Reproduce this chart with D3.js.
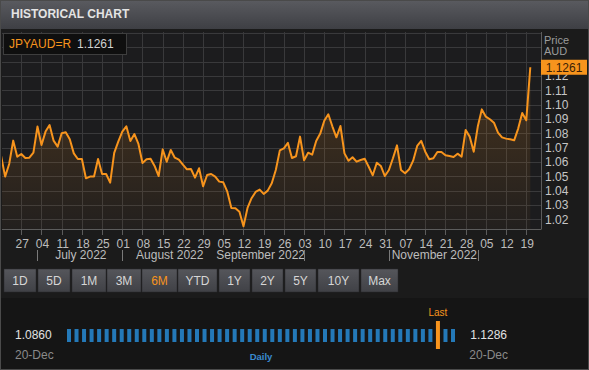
<!DOCTYPE html>
<html><head><meta charset="utf-8">
<script src="https://cdn.jsdelivr.net/npm/d3@7"></script>
<style>
html,body{margin:0;padding:0;background:#1a1a1a;}
svg{display:block;font-family:"Liberation Sans",Arial,Helvetica,sans-serif;}
</style>
</head><body>
<svg id="chart" width="589" height="370"></svg>
<script>
// ---------------- DATA ----------------
const title = "HISTORICAL CHART";
const symbol = "JPYAUD=R";
const lastValue = 1.1261;
const currencyLabel = ["Price", "AUD"];
const firstTradingDay = "2022-06-20";
// daily closes (trading days, Jun 20 2022 .. Dec 20 2022)
const values = [
  1.0642,1.0498,1.0586,1.0749,1.0637,1.0656,1.0628,1.0630,1.0665,1.0847,
  1.0719,1.0812,1.0858,1.0749,1.0707,1.0800,1.0807,1.0758,1.0660,1.0621,
  1.0621,1.0486,1.0498,1.0498,1.0621,1.0516,1.0516,1.0456,1.0663,1.0742,
  1.0812,1.0849,1.0747,1.0795,1.0726,1.0593,1.0619,1.0623,1.0572,1.0502,
  1.0688,1.0602,1.0684,1.0630,1.0616,1.0581,1.0549,1.0551,1.0491,1.0556,
  1.0430,1.0509,1.0516,1.0498,1.0463,1.0458,1.0393,1.0279,1.0277,1.0253,
  1.0151,1.0279,1.0347,1.0391,1.0407,1.0377,1.0400,1.0451,1.0544,1.0681,
  1.0695,1.0733,1.0628,1.0640,1.0777,1.0612,1.0665,1.0651,1.0747,1.0798,
  1.0888,1.0933,1.0849,1.0772,1.0851,1.0660,1.0609,1.0633,1.0602,1.0614,
  1.0623,1.0567,1.0507,1.0595,1.0572,1.0502,1.0544,1.0626,1.0716,1.0544,
  1.0521,1.0549,1.0609,1.0712,1.0747,1.0672,1.0619,1.0626,1.0670,1.0670,
  1.0647,1.0642,1.0635,1.0658,1.0637,1.0823,1.0777,1.0672,1.0847,1.0967,
  1.0916,1.0898,1.0874,1.0805,1.0772,1.0763,1.0758,1.0751,1.0833,1.0942,
  1.0891,1.1261
];
const yTickLabels = [1.02,1.03,1.04,1.05,1.06,1.07,1.08,1.09,1.10,1.11,1.12];
const yGridValues = [1.02,1.03,1.04,1.05,1.06,1.07,1.08,1.09,1.10,1.11,1.12,1.13,1.14,1.15];
const monthLabels = [
  {label:"July 2022", from:"2022-07-01", to:"2022-08-01"},
  {label:"August 2022", from:"2022-08-01", to:"2022-09-01"},
  {label:"September 2022", from:"2022-09-01", to:"2022-10-03"},
  {label:"November 2022", from:"2022-11-01", to:"2022-12-01"}
];
const monthSeparators = ["2022-07-01","2022-08-01","2022-10-03","2022-11-01","2022-12-01"];
const buttons = ["1D","5D","1M","3M","6M","YTD","1Y","2Y","5Y","10Y","Max"];
const activeButton = "6M";
const rangeLow = 1.0860, rangeHigh = 1.1286;
const rangeDateLeft = "20-Dec", rangeDateRight = "20-Dec";
const rangeSlots = 52;
const intervalLabel = "Daily";
const lastLabel = "Last";

// ---------------- LAYOUT ----------------
const buttonStarts = [4, 38, 72, 107, 142, 178, 219, 252, 285, 318, 361];
const buttonEnds   = [36, 70, 106, 141, 177, 217, 250, 283, 316, 359, 398];

// ---------------- SETUP ----------------
const parse = d3.timeParse("%Y-%m-%d");
const fmtKey = d3.timeFormat("%Y-%m-%d");
const dates = [];
{
  let d = parse(firstTradingDay);
  while (dates.length < values.length) {
    const wd = d.getDay();
    if (wd !== 0 && wd !== 6) dates.push(new Date(d));
    d = d3.timeDay.offset(d, 1);
  }
}
const idxOf = new Map(dates.map((d,i)=>[fmtKey(d), i]));
const data = values.map((v,i)=>({i, date:dates[i], v}));

const svg = d3.select("#chart");
const W = 589, H = 370;
const plot = {left:2, right:541, top:32, bottom:229};

const x = d3.scaleLinear().domain([0, values.length-1]).range([1.1, 530.3]);
const y = d3.scaleLinear().domain([1.02, 1.12]).range([219.3, 76]);

const defs = svg.append("defs");
const tg = defs.append("linearGradient").attr("id","titleGrad").attr("x1",0).attr("y1",0).attr("x2",0).attr("y2",1);
tg.append("stop").attr("offset","0%").attr("stop-color","#5a5b60");
tg.append("stop").attr("offset","100%").attr("stop-color","#3e3f44");
const ag = defs.append("linearGradient").attr("id","areaGrad").attr("gradientUnits","userSpaceOnUse")
  .attr("x1",0).attr("y1",y(1.10)).attr("x2",0).attr("y2",plot.bottom);
ag.append("stop").attr("offset","0%").attr("stop-color","#f7941d").attr("stop-opacity",0.16);
ag.append("stop").attr("offset","100%").attr("stop-color","#f7941d").attr("stop-opacity",0.03);
const bg = defs.append("linearGradient").attr("id","btnGrad").attr("x1",0).attr("y1",0).attr("x2",0).attr("y2",1);
bg.append("stop").attr("offset","0%").attr("stop-color","#55565b");
bg.append("stop").attr("offset","100%").attr("stop-color","#404146");
defs.append("clipPath").attr("id","plotClip").append("rect")
  .attr("x",plot.left).attr("y",plot.top).attr("width",plot.right-plot.left).attr("height",plot.bottom-plot.top);

// page background
svg.append("rect").attr("width",W).attr("height",H).attr("fill","#1b1b1b");
svg.append("rect").attr("x",0).attr("y",298).attr("width",W).attr("height",H-298).attr("fill","#151515");

// title bar
svg.append("rect").attr("x",0).attr("y",0).attr("width",W).attr("height",29).attr("fill","url(#titleGrad)");
svg.append("text").attr("x",11).attr("y",18).attr("fill","#e4e4e4")
  .attr("font-size",12).attr("font-weight","bold").text(title);

// plot background
svg.append("rect").attr("x",plot.left).attr("y",plot.top)
  .attr("width",plot.right-plot.left).attr("height",plot.bottom-plot.top).attr("fill","#1c1c1e");

// gridlines
const mondays = dates.map((d,i)=>({d,i})).filter(o=>o.d.getDay()===1 && o.i>0);
const grid = svg.append("g").attr("stroke","#39393b").attr("stroke-width",1);
grid.selectAll("line.h").data(yGridValues).join("line")
  .attr("x1",plot.left).attr("x2",plot.right)
  .attr("y1",d=>Math.round(y(d))+0.5).attr("y2",d=>Math.round(y(d))+0.5);
grid.selectAll("line.v").data(mondays).join("line")
  .attr("x1",d=>Math.round(x(d.i))+0.5).attr("x2",d=>Math.round(x(d.i))+0.5)
  .attr("y1",plot.top).attr("y2",plot.bottom);

// area + line
const g = svg.append("g").attr("clip-path","url(#plotClip)");
g.append("path").datum(data)
  .attr("fill","url(#areaGrad)")
  .attr("d", d3.area().x(d=>x(d.i)).y0(plot.bottom).y1(d=>y(d.v)));
g.append("path").datum(data)
  .attr("fill","none").attr("stroke","#f7941d").attr("stroke-width",2)
  .attr("stroke-linejoin","round")
  .attr("d", d3.line().x(d=>x(d.i)).y(d=>y(d.v)));

// plot borders
svg.append("line").attr("x1",plot.left).attr("x2",plot.right+0.5).attr("y1",plot.bottom+0.5).attr("y2",plot.bottom+0.5)
  .attr("stroke","#5c5c5c");
svg.append("line").attr("x1",plot.right+0.5).attr("x2",plot.right+0.5).attr("y1",plot.top).attr("y2",plot.bottom)
  .attr("stroke","#5c5c5c");

// x axis ticks
const xa = svg.append("g");
xa.selectAll("line").data(mondays).join("line")
  .attr("x1",d=>Math.round(x(d.i))+0.5).attr("x2",d=>Math.round(x(d.i))+0.5)
  .attr("y1",plot.bottom).attr("y2",plot.bottom+6).attr("stroke","#5c5c5c");
xa.selectAll("text").data(mondays).join("text")
  .attr("x",d=>x(d.i)+1).attr("y",248).attr("text-anchor","middle")
  .attr("fill","#bdbdbd").attr("font-size",12)
  .text(d=>d3.timeFormat("%d")(d.d));
xa.selectAll("text.m").data(monthLabels).join("text").attr("class","m")
  .attr("x",d=>(x(idxOf.get(d.from))+x(idxOf.get(d.to)))/2+1).attr("y",259)
  .attr("text-anchor","middle").attr("fill","#bdbdbd").attr("font-size",12)
  .text(d=>d.label);
xa.selectAll("line.sep").data(monthSeparators).join("line").attr("class","sep")
  .attr("x1",d=>Math.round(x(idxOf.get(d)))+0.5).attr("x2",d=>Math.round(x(idxOf.get(d)))+0.5)
  .attr("y1",250).attr("y2",261).attr("stroke","#7a7a7a");

// y axis labels
const ya = svg.append("g");
ya.selectAll("text").data(yTickLabels).join("text")
  .attr("x",545).attr("y",d=>y(d)).attr("dy","0.35em")
  .attr("fill","#c6c6c6").attr("font-size",12)
  .text(d=>d3.format(".2f")(d));
ya.selectAll("text.cur").data(currencyLabel).join("text").attr("class","cur")
  .attr("x",544).attr("y",(d,i)=>44+i*10.5).attr("fill","#9c9c9c").attr("font-size",11)
  .text(d=>d);
// last price tag
const ly = y(lastValue);
svg.append("rect").attr("x",541).attr("y",ly-7.5).attr("width",46).attr("height",15).attr("fill","#f7941d");
svg.append("text").attr("x",564).attr("y",ly).attr("dy","0.36em").attr("text-anchor","middle")
  .attr("fill","#3b1e05").attr("font-size",12).text(d3.format(".4f")(lastValue));

// legend box
svg.append("rect").attr("x",3.5).attr("y",33.5).attr("width",123).attr("height",21)
  .attr("fill","#0f0f0f").attr("stroke","#3e3e3e");
svg.append("text").attr("x",9).attr("y",47.5).attr("font-size",12).attr("fill","#f7941d").text(symbol);
svg.append("text").attr("x",77).attr("y",47.5).attr("font-size",12).attr("fill","#d2d2d2").text(d3.format(".4f")(lastValue));

// buttons
const btnPos = buttons.map((b,i)=>({b, x:buttonStarts[i], w:buttonEnds[i]-buttonStarts[i]}));
const bsel = svg.append("g").selectAll("g").data(btnPos).join("g").attr("transform",d=>`translate(${d.x},269)`);
bsel.append("rect").attr("width",d=>d.w).attr("height",23).attr("fill","url(#btnGrad)")
  .attr("stroke","#2a2a2c").attr("stroke-width",0.5);
bsel.append("text").attr("x",d=>d.w/2).attr("y",16).attr("text-anchor","middle").attr("font-size",12)
  .attr("fill",d=>d.b===activeButton?"#f7941d":"#d6d6d6").text(d=>d.b);

// bottom range bar
const slotX = d3.scaleLinear().domain([0, rangeSlots-1]).range([67, 451]);
const frac = (lastValue-rangeLow)/(rangeHigh-rangeLow);
const lastSlot = Math.ceil(frac*(rangeSlots-1));
const slots = d3.range(rangeSlots);
svg.append("g").selectAll("rect").data(slots.filter(s=>s!==lastSlot)).join("rect")
  .attr("x",d=>slotX(d)).attr("y",329).attr("width",4).attr("height",13).attr("fill","#2479b8");
svg.append("rect").attr("x",slotX(lastSlot)).attr("y",321).attr("width",4).attr("height",28).attr("fill","#f7941d");
svg.append("text").attr("x",slotX(lastSlot)+2).attr("y",316).attr("text-anchor","middle")
  .attr("font-size",10).attr("fill","#f7941d").text(lastLabel);
svg.append("text").attr("x",15).attr("y",339).attr("font-size",12).attr("fill","#e2e2e2").text(d3.format(".4f")(rangeLow));
svg.append("text").attr("x",15).attr("y",359).attr("font-size",12).attr("fill","#8a8a8a").text(rangeDateLeft);
svg.append("text").attr("x",507).attr("y",339).attr("text-anchor","end").attr("font-size",12).attr("fill","#e2e2e2").text(d3.format(".4f")(rangeHigh));
svg.append("text").attr("x",508).attr("y",359).attr("text-anchor","end").attr("font-size",12).attr("fill","#8a8a8a").text(rangeDateRight);
svg.append("text").attr("x",261).attr("y",360).attr("text-anchor","middle").attr("font-size",9.5)
  .attr("font-weight","bold").attr("fill","#3a8ad0").text(intervalLabel);

// outer frame
svg.append("rect").attr("x",0.5).attr("y",0.5).attr("width",W-1).attr("height",H-1)
  .attr("fill","none").attr("stroke","#4a4a4a");
</script>
</body></html>
